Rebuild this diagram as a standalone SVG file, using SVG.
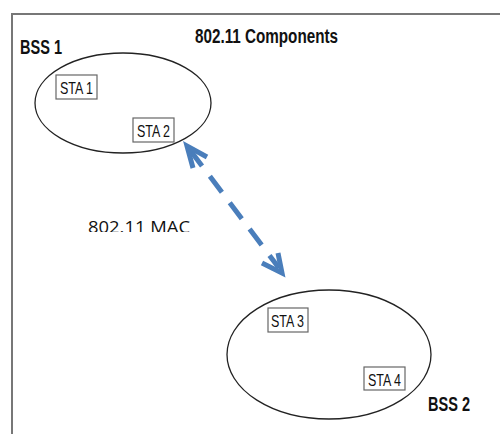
<svg xmlns="http://www.w3.org/2000/svg" width="500" height="434" viewBox="0 0 500 434">
<defs>
<style>
.frame{fill:none;stroke:#777;stroke-width:2}
.bss{fill:none;stroke:#222;stroke-width:1.3}
.box{fill:#fff;stroke:#666;stroke-width:1.2}
.sta{font-family:"Liberation Sans",Arial,sans-serif;font-size:16.5px;fill:#111}
.bold{font-family:"Liberation Sans",Arial,sans-serif;font-weight:bold;font-size:20px;fill:#111}
.mac{font-family:"Open Sans","Noto Sans",sans-serif;font-size:16px;fill:#111}
.conn{fill:none;stroke:#4a7ebb;stroke-width:5}
</style>
<clipPath id="macclip"><rect x="80" y="200" width="130" height="32"/></clipPath>
</defs>
<rect width="500" height="434" fill="#fff"/>
<path class="frame" d="M12,434 V14 H500"/>
<text class="bold" x="195" y="43" textLength="143" lengthAdjust="spacingAndGlyphs">802.11 Components</text>
<g id="bss1">
<ellipse class="bss" cx="123" cy="103" rx="88" ry="50"/>
<text class="bold" x="20" y="54" textLength="42" lengthAdjust="spacingAndGlyphs">BSS 1</text>
</g>
<g id="sta1">
<rect class="box" x="56" y="75" width="41" height="24"/>
<text class="sta" x="60" y="94" textLength="33" lengthAdjust="spacingAndGlyphs">STA 1</text>
</g>
<g id="sta2">
<rect class="box" x="133" y="118" width="41" height="24"/>
<text class="sta" x="137" y="137" textLength="33" lengthAdjust="spacingAndGlyphs">STA 2</text>
</g>
<g id="bss2">
<ellipse class="bss" cx="329" cy="354.5" rx="102" ry="64.5"/>
<text class="bold" x="428" y="411" textLength="42" lengthAdjust="spacingAndGlyphs">BSS 2</text>
</g>
<g id="sta3">
<rect class="box" x="268" y="308" width="40" height="24"/>
<text class="sta" x="271" y="327" textLength="33" lengthAdjust="spacingAndGlyphs">STA 3</text>
</g>
<g id="sta4">
<rect class="box" x="364" y="367" width="41" height="23"/>
<text class="sta" x="368" y="385.5" textLength="33" lengthAdjust="spacingAndGlyphs">STA 4</text>
</g>
<g id="mac">
<text class="mac" x="88" y="233" clip-path="url(#macclip)" textLength="102" lengthAdjust="spacingAndGlyphs">802.11 MAC</text>
</g>
<g id="connectors">
<path class="conn" d="M190,150 L279,268" stroke-dasharray="20 13"/>
<path class="conn" d="M193,168 L187,146 L207,157"/>
<path class="conn" d="M278,253 L282,273 L262,263"/>
</g>
</svg>
